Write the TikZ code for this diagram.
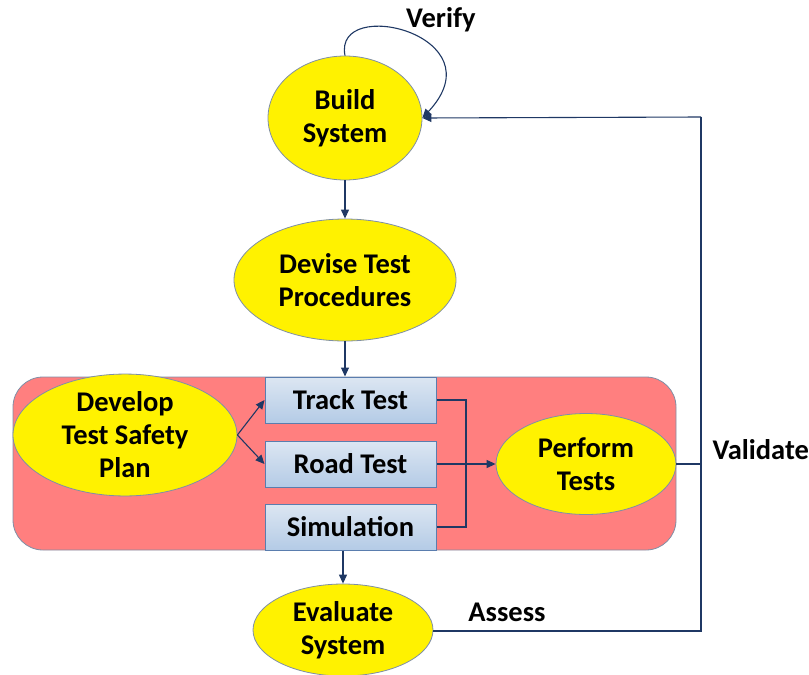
\documentclass[tikz,border=0pt]{standalone}
\usepackage{fontspec}
\setmainfont{Carlito}
\usetikzlibrary{shapes.geometric,arrows.meta}
\definecolor{navy}{HTML}{1F3864}
\definecolor{edgegray}{HTML}{7F8FA6}
\definecolor{zonered}{HTML}{FF7F7F}
\definecolor{boxtop}{HTML}{DCE6F2}
\definecolor{boxbot}{HTML}{B4CBE6}
\definecolor{boxedge}{HTML}{5A7DAE}
\tikzset{
  stage/.style={ellipse, draw=edgegray, line width=0.8pt, fill=yellow,
    inner sep=0pt, align=center, font=\fontsize{28.5}{33}\selectfont\bfseries},
  testbox/.style={rectangle, draw=boxedge, line width=1pt, top color=boxtop,
    bottom color=boxbot, minimum width=171pt, minimum height=46pt, inner sep=0pt,
    font=\fontsize{28.5}{33}\selectfont\bfseries},
  flow/.style={draw=navy, line width=1.1pt},
  tip/.style={-{Triangle[length=9pt,width=8pt]}},
  lbl/.style={font=\fontsize{28.5}{33}\selectfont\bfseries}
}
\begin{document}
\begin{tikzpicture}[x=1pt,y=-1pt]
  \useasboundingbox (0,0) rectangle (809,675);
  % testing zone background
  \fill[zonered, draw=edgegray, line width=0.8pt, rounded corners=30pt] (13,377) rectangle (676,550);

  % process stages
  \node[stage, minimum width=154pt, minimum height=124pt] (build) at (345,118) {Build\\System};
  \node[stage, minimum width=222pt, minimum height=122pt] (devise) at (345,280) {Devise Test\\Procedures};
  \node[stage, minimum width=224pt, minimum height=110pt] (plan) at (125,435) {Develop\\Test Safety\\Plan};
  \node[stage, minimum width=180pt, minimum height=101pt] (perform) at (586,464) {Perform\\Tests};
  \node[stage, minimum width=180pt, minimum height=92pt] (evaluate) at (343,630) {Evaluate\\System};

  % test kinds
  \node[testbox] (track) at (350.5,400) {Track Test};
  \node[testbox] (road) at (350.5,464) {Road Test};
  \node[testbox] (sim) at (350.5,527) {Simulation};

  % junction points of the feedback path
  \coordinate (merge) at (466,400);
  \coordinate (rail) at (701,464);
  \coordinate (railtop) at (701,117);
  \coordinate (railbot) at (701,631);

  % main flow
  \draw[flow, tip] (build.south) -- (devise.north);
  \draw[flow, tip] (devise.south) -- (track.north -| devise.south);
  \draw[flow, tip] (sim.south -| evaluate.north) -- (evaluate.north);
  \draw[flow, tip] (plan.east) -- (track.west);
  \draw[flow, tip] (plan.east) -- (road.west);
  \draw[flow] (track.east) -- (merge) |- (sim.east);
  \draw[flow, tip] (road.east) -- (perform.west);

  % feedback
  \draw[flow] (perform.east) -- (rail);
  \draw[flow] (evaluate.east |- railbot) -- (railbot) -- (railtop);
  \draw[flow, tip] (railtop) -- (build.east);
  \draw[flow, tip] (build.north) .. controls (333,-5) and (500,35) .. (build.east);

  % labels
  \node[lbl] (verify) at (441,20) {Verify};
  \node[lbl, anchor=west] (validate) at (709,450) {Validate};
  \node[lbl] (assess) at (507,612) {Assess};
\end{tikzpicture}
\end{document}
